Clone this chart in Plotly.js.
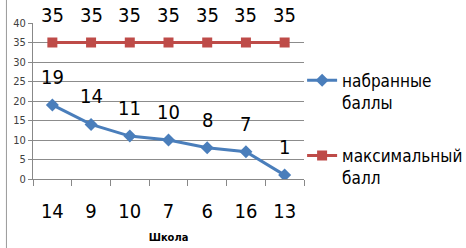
<!DOCTYPE html>
<html><head><meta charset="utf-8">
<script src="https://cdn.plot.ly/plotly-3.0.1.min.js"></script>
<style>body{margin:0;background:#fff}#c{width:466px;height:248px}</style>
</head><body><div id="c"></div>
<script>
const categories = ['14','9','10','7','6','16','13'];
const scored = [19,14,11,10,8,7,1];
const maxScore = [35,35,35,35,35,35,35];
const seriesNames = ['набранные<br>баллы','максимальный<br>балл'];
const yTicks = [0,5,10,15,20,25,30,35,40];

const FONT = '"DejaVu Sans Condensed","Liberation Sans Narrow",Roboto,sans-serif';
const blue = '#4A7EBB', red = '#BE4B48';

const traces = [
  {x: categories, y: scored, name: seriesNames[0], legendgroup: 'a', type: 'scatter', mode: 'lines+markers',
   line: {color: blue, width: 3}, marker: {symbol: 'diamond', size: 10, color: blue}},
  {x: categories, y: maxScore, name: seriesNames[1], legendgroup: 'b', type: 'scatter', mode: 'lines+markers',
   line: {color: red, width: 3}, marker: {symbol: 'square', size: 10, color: red}}
];

const annotations = [];
[scored, maxScore].forEach(arr => arr.forEach((v, i) => annotations.push({
  x: i, y: v, xref: 'x', yref: 'y', text: String(v), showarrow: false,
  yanchor: 'middle', yshift: 28, font: {family: FONT, size: 20, color: '#000'}
})));

const layout = {
  width: 466, height: 248,
  margin: {l: 33, r: 162, t: 23, b: 69, autoexpand: false},
  paper_bgcolor: '#fff', plot_bgcolor: '#fff',
  showlegend: true,
  font: {family: FONT, color: '#000'},
  xaxis: {type: 'category', categoryorder: 'array', categoryarray: categories,
    range: [-0.5, 6.5], showgrid: false, showline: true, linecolor: '#888', linewidth: 1,
    ticks: 'outside', tickson: 'boundaries', ticklen: 6, tickcolor: '#888', tickangle: 0,
    automargin: false,
    tickfont: {family: FONT, size: 20, color: '#000'}, ticklabelstandoff: 14,
    title: {text: '<b>Школа</b>', font: {family: FONT, size: 11, color: '#000'}, standoff: 11},
    fixedrange: true},
  yaxis: {range: [0, 40], tickvals: yTicks, showgrid: true, gridcolor: '#8c8c8c', gridwidth: 1,
    automargin: false,
    showline: true, linecolor: '#888', linewidth: 1, ticks: 'outside', ticklen: 4, tickcolor: '#888',
    tickfont: {family: FONT, size: 11, color: '#404040'}, zeroline: false, fixedrange: true},
  legend: {x: 0.993, xanchor: 'left', y: 0.745, yanchor: 'top', valign: 'top',
    traceorder: 'grouped', tracegroupgap: 28,
    font: {family: FONT, size: 17, color: '#000'}, itemwidth: 30,
    bgcolor: 'rgba(0,0,0,0)'},
  annotations: annotations,
  shapes: [{type: 'line', xref: 'paper', yref: 'paper', x0: -0.098, x1: -0.098, y0: -0.45, y1: 1.16,
    line: {color: '#999', width: 1}}]
};

Plotly.newPlot('c', traces, layout, {staticPlot: true, displayModeBar: false});
</script></body></html>
